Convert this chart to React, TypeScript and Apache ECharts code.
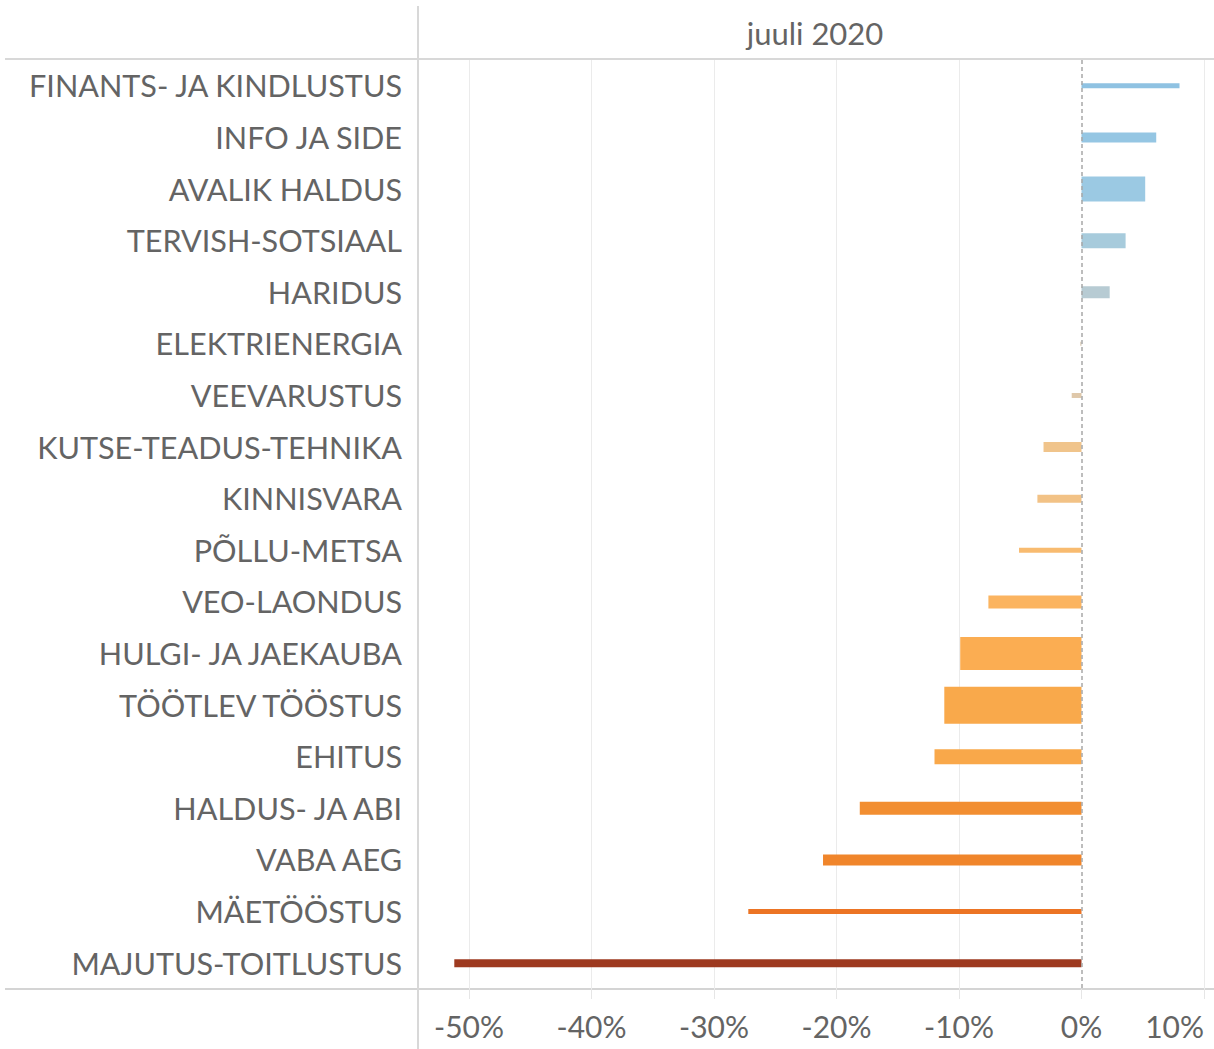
import React, { useEffect, useRef } from "react";
import * as echarts from "echarts";

// Categories (top to bottom)
const categories: string[] = [
  "FINANTS- JA KINDLUSTUS",
  "INFO JA SIDE",
  "AVALIK HALDUS",
  "TERVISH-SOTSIAAL",
  "HARIDUS",
  "ELEKTRIENERGIA",
  "VEEVARUSTUS",
  "KUTSE-TEADUS-TEHNIKA",
  "KINNISVARA",
  "PÕLLU-METSA",
  "VEO-LAONDUS",
  "HULGI- JA JAEKAUBA",
  "TÖÖTLEV TÖÖSTUS",
  "EHITUS",
  "HALDUS- JA ABI",
  "VABA AEG",
  "MÄETÖÖSTUS",
  "MAJUTUS-TOITLUSTUS",
];

// Change, % (juuli 2020)
const changePct: number[] = [
  8.0, 6.1, 5.2, 3.6, 2.3, -0.1, -0.8, -3.1, -3.6, -5.1, -7.6, -9.9, -11.2, -12.0,
  -18.1, -21.1, -27.2, -51.2,
];

// Relative size measure (drives bar thickness)
const sizeMeasure: number[] = [
  5, 10, 25, 15, 12, 4, 5, 10, 8, 5, 13, 33, 37, 15, 13, 11, 5, 8,
];

// Tick labels of the value axis
const tickValues: number[] = [-50, -40, -30, -20, -10, 0, 10];
const headerLabel = "juuli 2020";

// Palette (style)
const barColors: string[] = [
  "#8fc2e2",
  "#95c6e3",
  "#9bc9e3",
  "#a7cbdc",
  "#b7cbd3",
  "#d6c8b3",
  "#dfc8aa",
  "#f0c48b",
  "#f2c286",
  "#f8bb70",
  "#fbb460",
  "#fbad52",
  "#f9a94b",
  "#f9a84a",
  "#f28e31",
  "#f0852b",
  "#ec7424",
  "#9e3a20",
];

const FONT = "Lato, 'Noto Sans', sans-serif";
const TEXT_COLOR = "#646464";
const SIZE_PX = 1;

export default function App() {
  const ref = useRef<HTMLDivElement>(null);

  useEffect(() => {
    if (!ref.current) return;
    const chart = echarts.init(ref.current, undefined, { renderer: "svg" });

    const data = categories.map((c, i) => [changePct[i], i, sizeMeasure[i]]);

    const option: any = {
      animation: false,
      backgroundColor: "#ffffff",
      textStyle: { fontFamily: FONT },
      grid: { left: 469, right: 10, top: 60, bottom: 60, containLabel: false },
      xAxis: {
        type: "value",
        min: tickValues[0],
        max: tickValues[tickValues.length - 1],
        interval: 10,
        axisLine: { show: false },
        axisTick: {
          show: true,
          length: 10,
          lineStyle: { color: "#e6e6e6", width: 1 },
        },
        axisLabel: {
          formatter: "{value}%",
          fontSize: 30,
          fontFamily: FONT,
          color: TEXT_COLOR,
          margin: 22,
          alignMaxLabel: "right",
        },
        splitLine: {
          show: true,
          showMinLine: true,
          showMaxLine: true,
          lineStyle: {
            color: tickValues.map((v) => (v === 0 ? "rgba(0,0,0,0)" : "#ebebeb")),
            width: 1,
          },
        },
      },
      yAxis: {
        type: "category",
        data: categories,
        inverse: true,
        axisLine: { show: false },
        axisTick: { show: false },
        splitLine: { show: false },
        axisLabel: {
          fontSize: 30.6,
          fontFamily: FONT,
          color: TEXT_COLOR,
          margin: 67,
          padding: [0, 0, 3, 0],
        },
      },
      graphic: [
        {
          type: "line",
          shape: { x1: 5, y1: 59, x2: 1214, y2: 59 },
          style: { stroke: "#d8d8d8", lineWidth: 2 },
          silent: true,
        },
        {
          type: "line",
          shape: { x1: 5, y1: 989, x2: 1214, y2: 989 },
          style: { stroke: "#d4d4d4", lineWidth: 2 },
          silent: true,
        },
        {
          type: "line",
          shape: { x1: 418, y1: 6, x2: 418, y2: 1049 },
          style: { stroke: "#d8d8d8", lineWidth: 2 },
          silent: true,
        },
        {
          type: "text",
          x: 815,
          y: 33,
          style: {
            text: headerLabel,
            fontSize: 31,
            fontFamily: FONT,
            fill: TEXT_COLOR,
            textAlign: "center",
            textVerticalAlign: "middle",
          },
          silent: true,
        },
      ],
      series: [
        {
          type: "custom",
          coordinateSystem: "cartesian2d",
          clip: false,
          encode: { x: 0, y: 1 },
          data,
          renderItem: (params: any, api: any) => {
            const v = api.value(0);
            const c = api.value(1);
            const w = api.value(2);
            const p0 = api.coord([0, c]);
            const p1 = api.coord([v, c]);
            const h = w * SIZE_PX;
            const x = Math.min(p0[0], p1[0]);
            const width = Math.max(Math.abs(p1[0] - p0[0]), 1);
            return {
              type: "rect",
              shape: { x, y: p0[1] - h / 2, width, height: h },
              style: { fill: barColors[params.dataIndex] },
            };
          },
          markLine: {
            silent: true,
            symbol: "none",
            label: { show: false },
            lineStyle: { color: "#a8a8a8", type: [4, 3], width: 1.5 },
            data: [{ xAxis: 0 }],
          },
          z: 3,
        },
      ],
    };

    chart.setOption(option);
    return () => chart.dispose();
  }, []);

  return (
    <div
      ref={ref}
      style={{ position: "absolute", left: 0, top: 0, width: 1214, height: 1049 }}
    />
  );
}
